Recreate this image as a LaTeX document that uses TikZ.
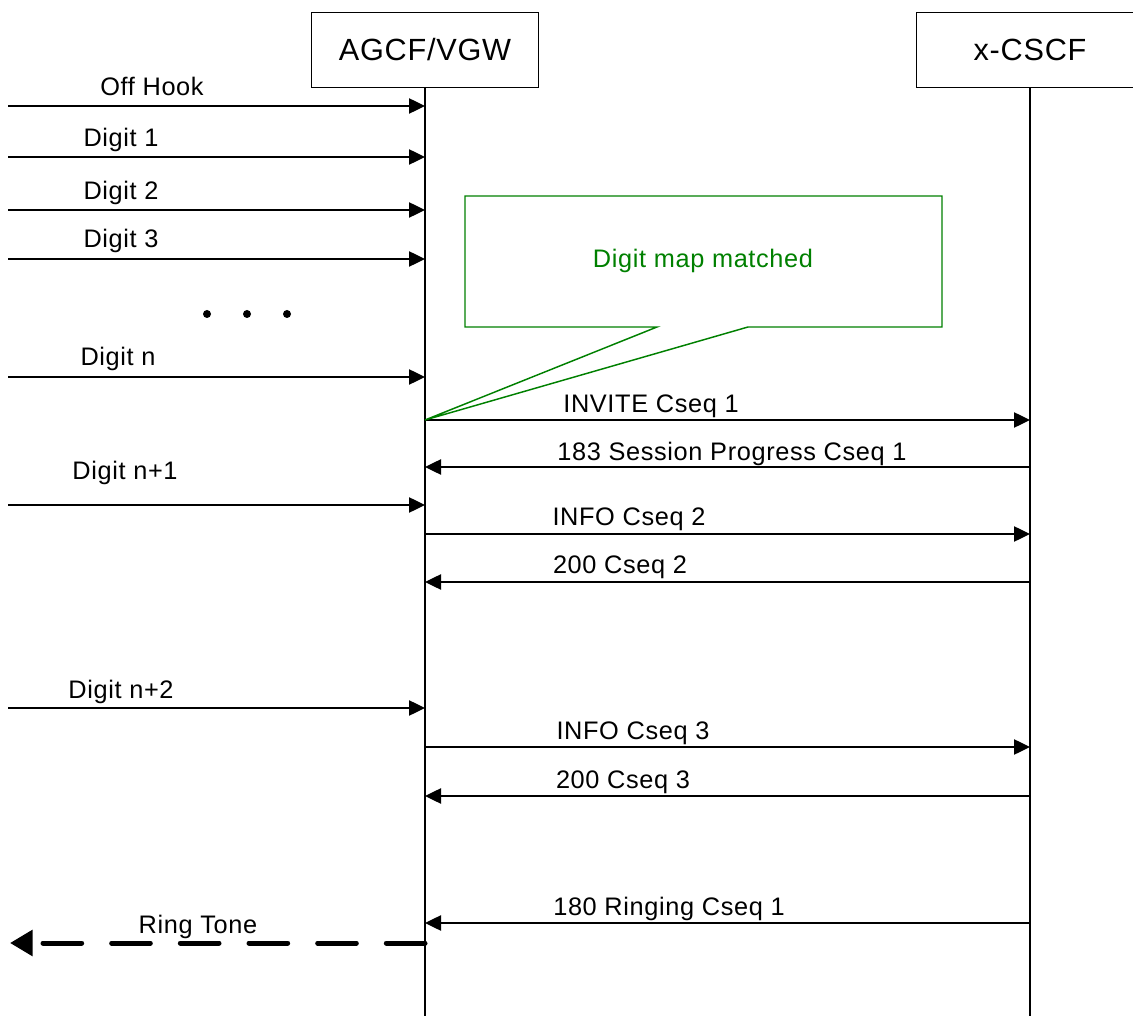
\documentclass[tikz,border=0pt]{standalone}
\usepackage{fontspec}
\setmainfont[LetterSpace=2.5]{Liberation Sans}
\usetikzlibrary{arrows.meta,positioning}

\definecolor{notegreen}{RGB}{0,128,0}

\begin{document}
\begin{tikzpicture}[
    x=0.75pt, y=-0.75pt,
    entity/.style={rectangle, draw, line width=1.1pt, minimum width=170pt, minimum height=56.5pt, inner sep=0pt, font=\fontsize{23}{27}\selectfont},
    lifeline/.style={line width=1.1pt},
    msg/.style={-{Triangle[length=12pt,width=11.5pt]}, line width=1pt},
    ringtone/.style={-{Triangle[length=17pt,width=19pt]}, line width=3.75pt, line cap=round, dash pattern=on 29pt off 22.5pt},
    lbl/.style={anchor=base, inner sep=0pt, font=\fontsize{19}{23}\selectfont},
    callout/.style={draw=notegreen, line width=1.1pt}
]

\useasboundingbox (0,0) rectangle (1133,1016);
\clip (0,0) rectangle (1133,1016);

% Entities and lifelines
\node[entity] (agcf) at (425,50) {AGCF/VGW};
\node[entity] (cscf) at (1030,50) {x-CSCF};
\coordinate (bottom) at (0,1016);

\draw[lifeline] (agcf.south) -- (agcf.south |- bottom);
\draw[lifeline] (cscf.south) -- (cscf.south |- bottom);

% Subscriber side
\foreach \n/\y/\lx/\ly/\txt in {offhook/106/152/96/Off Hook, dig1/157/121/147/Digit 1, dig2/210/121/200/Digit 2, dig3/259/121/248/Digit 3, dign/377/118/366/Digit n, dignA/505/125/480/Digit n+1, dignB/708/121/698/Digit n+2} {
    \coordinate (\n-l) at (8,\y);
    \coordinate (\n-r) at (agcf.south |- 0,\y);
    \draw[msg] (\n-l) -- (\n-r);
    \node[lbl] (\n-lbl) at (\lx,\ly) {\txt};
}

\foreach \i/\px in {1/207, 2/247, 3/287} {
    \fill (\px,314) circle (3pt);
}

% SIP side
\foreach \n/\y/\lx/\ly/\txt in {invite/420/651/413/INVITE Cseq 1, info2/534/629/526/INFO Cseq 2, info3/747/633/739/INFO Cseq 3} {
    \coordinate (\n-l) at (agcf.south |- 0,\y);
    \coordinate (\n-r) at (cscf.south |- 0,\y);
    \draw[msg] (\n-l) -- (\n-r);
    \node[lbl] (\n-lbl) at (\lx,\ly) {\txt};
}

\foreach \n/\y/\lx/\ly/\txt in {sp183/467/732/460/183 Session Progress Cseq 1, ok2/582/620/574/200 Cseq 2, ok3/796/623/788/200 Cseq 3, ring180/923/669/915/180 Ringing Cseq 1} {
    \coordinate (\n-l) at (agcf.south |- 0,\y);
    \coordinate (\n-r) at (cscf.south |- 0,\y);
    \draw[msg] (\n-r) -- (\n-l);
    \node[lbl] (\n-lbl) at (\lx,\ly) {\txt};
}

% Ring tone back to the subscriber
\coordinate (ring-r) at (agcf.south |- 0,943);
\coordinate (ring-l) at (10,943);
\draw[ringtone] (ring-r) -- (ring-l);
\node[lbl] (ring-lbl) at (198,933) {Ring Tone};

% Note
\draw[callout] (465,196) -- (942,196) -- (942,327) -- (748,327) -- (invite-l) -- (657,327) -- (465,327) -- cycle;
\node[lbl, anchor=center, text=notegreen] (note) at (703,261) {Digit map matched};

\end{tikzpicture}
\end{document}
